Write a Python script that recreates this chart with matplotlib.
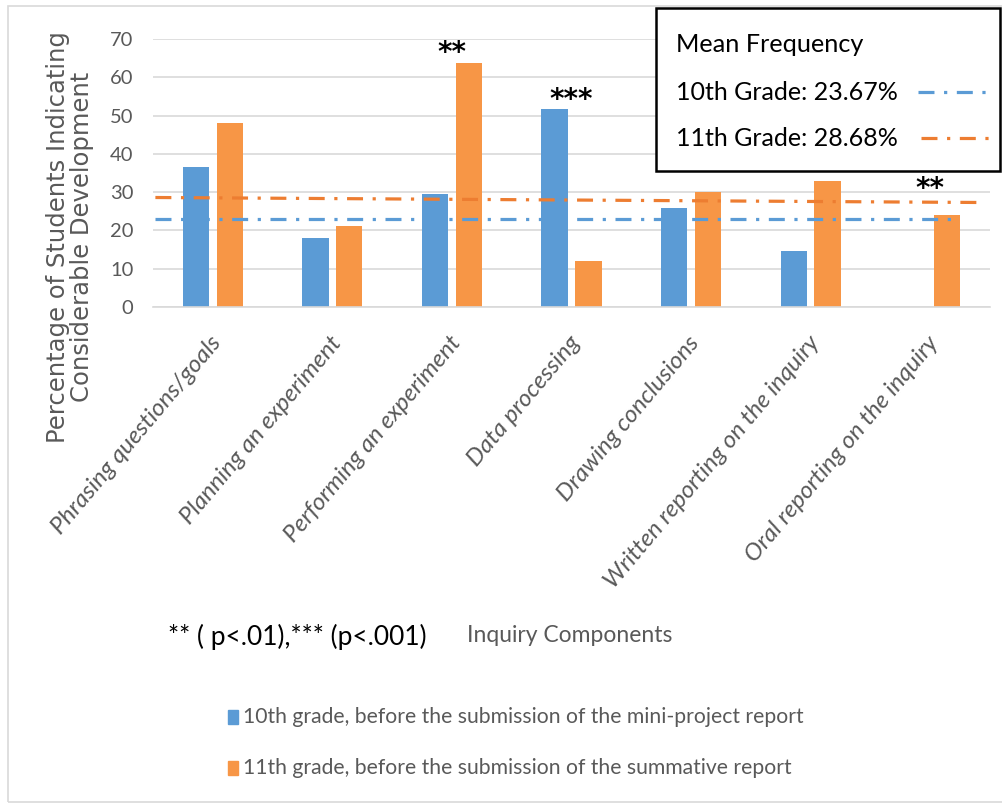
"""
Inquiry components: share of students indicating considerable development,
10th vs 11th grade, with mean-frequency reference lines.
"""

import numpy as np
from matplotlib import pyplot as plt
from matplotlib.patches import Rectangle
from matplotlib.lines import Line2D

# Data
categories = ["Phrasing questions/goals", "Planning an experiment",
              "Performing an experiment", "Data processing",
              "Drawing conclusions", "Written reporting on the inquiry",
              "Oral reporting on the inquiry"]
grade10 = [36.6, 18.0, 29.5, 51.7, 25.9, 14.5, 0.0]
grade11 = [48.0, 21.1, 63.7, 11.9, 30.0, 33.0, 23.9]
mean10_line = [23.1, 23.1]   # drawn mean line, left/right ends
mean11_line = [28.6, 27.3]
stars = ["", "", "**", "***", "", "", "**"]
star_y = [0, 0, 66.3, 54.0, 0, 0, 30.8]
series_names = ["10th grade, before the submission of the mini-project report",
                "11th grade, before the submission of the summative report"]
mean_labels = ["10th Grade: 23.67%", "11th Grade: 28.68%"]

blue = "#5B9BD5"
orange = "#F79646"
line_orange = "#ED7D31"
grey = "#595959"

plt.rcParams['font.family'] = ['Lato', 'DejaVu Sans']

fig = plt.figure(figsize=(10.03, 8.05), dpi=100)
W, H = 1003.0, 805.0

def fx(px):
    return px / W

def fy(py):
    return 1 - py / H

# outer chart border
fig.patches.append(Rectangle((fx(8), fy(802)), fx(1010) - fx(8), fy(6) - fy(802),
                             transform=fig.transFigure, fill=False,
                             ec="#d9d9d9", lw=1.2))

ax = fig.add_axes([fx(153), fy(307), fx(990) - fx(153), fy(39) - fy(307)])
x = np.arange(len(categories))
w = 0.22
ax.bar(x - 0.142, grade10, w, color=blue, zorder=2)
ax.bar(x + 0.142, grade11, w, color=orange, zorder=2)

dash = (0, (5, 3, 1, 3))
ax.plot([-0.48, 6.25], mean10_line, color=blue, lw=2.3, ls=dash, zorder=3)
ax.plot([-0.48, 6.4], mean11_line, color=line_orange, lw=2.3, ls=dash, zorder=3)

for i, s in enumerate(stars):
    if s:
        ax.text(x[i], star_y[i], s, ha="center", va="center",
                fontsize=20, fontweight="bold", color="black",
                family="DejaVu Sans")

ax.set_xlim(-0.5, 6.5)
ax.set_ylim(0, 70)
ax.set_yticks(np.arange(0, 71, 10))
ax.yaxis.grid(True, color="#d9d9d9", lw=1.2, zorder=0)
ax.tick_params(axis="y", length=0, pad=14, labelsize=14.5, labelcolor=grey)
ax.set_xticks([])
for sp in ["top", "right", "left"]:
    ax.spines[sp].set_visible(False)
ax.spines["bottom"].set_color("#d9d9d9")
ax.spines["bottom"].set_linewidth(1.2)

for i, c in enumerate(categories):
    ax.text(x[i] + 0.04, -0.12, c, transform=ax.get_xaxis_transform(),
            rotation=50, rotation_mode="anchor", ha="right", va="center",
            fontsize=17.5, style="italic", color=grey)

fig.text(fx(70), fy(237), "Percentage of Students Indicating\nConsiderable Development",
         rotation=90, ha="center", va="center", ma="center",
         fontsize=17.5, color=grey, family="DejaVu Sans", linespacing=1.0)

fig.text(fx(570), fy(636), "Inquiry Components", ha="center", va="center",
         fontsize=16.5, color=grey)
fig.text(fx(168), fy(637), "** ( p<.01),*** (p<.001)", ha="left", va="center",
         fontsize=19, color="black")

# bottom legend
for k, (name, col) in enumerate(zip(series_names, [blue, orange])):
    yy = 717 + 51 * k
    fig.patches.append(Rectangle((fx(228), fy(yy + 7)), fx(10), 14 / H,
                                 transform=fig.transFigure, color=col))
    fig.text(fx(243), fy(yy), name, ha="left", va="center",
             fontsize=15.2, color=grey)

# mean frequency box
fig.patches.append(Rectangle((fx(656), fy(171)), fx(1000) - fx(656), fy(8) - fy(171),
                             transform=fig.transFigure, fill=True, fc="white",
                             ec="black", lw=1.8, zorder=5))
fig.text(fx(676), fy(44), "Mean Frequency", ha="left", va="center",
         fontsize=18.2, color="black", zorder=6)
for k, (lab, col) in enumerate(zip(mean_labels, [blue, line_orange])):
    yy = 92 + 46 * k
    fig.text(fx(676), fy(yy), lab, ha="left", va="center",
             fontsize=18, color="black", zorder=6)
    fig.lines.append(Line2D([fx(918 + 3 * k), fx(992 + 3 * k)], [fy(yy), fy(yy)],
                            transform=fig.transFigure, color=col, lw=2.3,
                            ls=dash, zorder=6))

plt.savefig("out.png", dpi=100)
plt.close()
